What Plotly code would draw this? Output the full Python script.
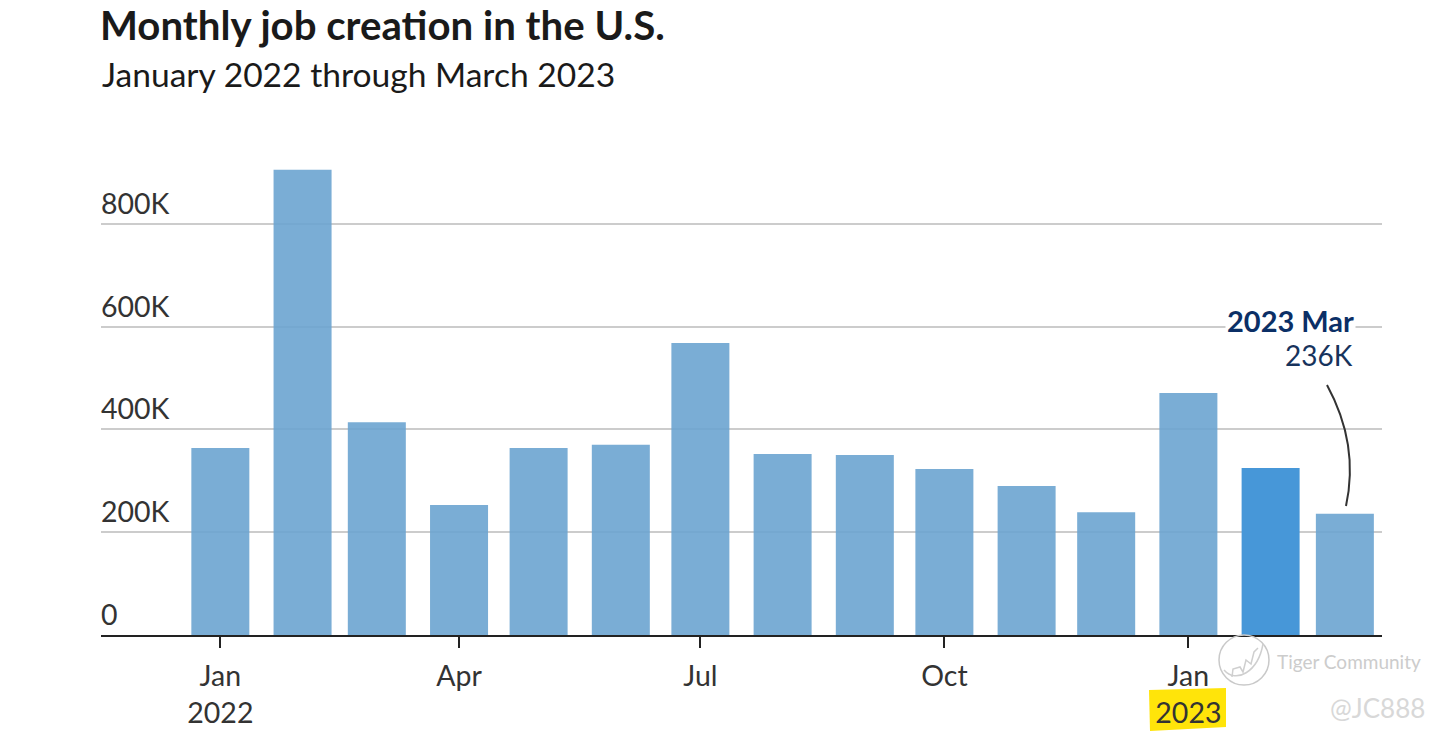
import plotly.graph_objects as go

months = ["2022-01-01","2022-02-01","2022-03-01","2022-04-01","2022-05-01","2022-06-01","2022-07-01",
          "2022-08-01","2022-09-01","2022-10-01","2022-11-01","2022-12-01","2023-01-01","2023-02-01","2023-03-01"]
jobs = [364, 905, 414, 253, 364, 370, 568, 352, 350, 323, 290, 239, 471, 325, 236]
bar_colors = ["rgba(108,164,208,0.9)"]*13 + ["#4797d8", "rgba(108,164,208,0.9)"]
x_tick_vals = ["2022-01-01","2022-04-01","2022-07-01","2022-10-01","2023-01-01"]
x_tick_text = ["Jan<br>2022","Apr","Jul","Oct","Jan<br>2023"]
y_tick_vals = [0,200,400,600,800]
y_tick_text = ["0","200K","400K","600K","800K"]

W, H = 1453, 742
L, R, T, B = 101, 1382, 157, 635
def px(x): return (x-L)/(R-L)
def py(y): return (B-y)/(B-T)
def path(cmds):
    out=[]
    for c in cmds:
        if isinstance(c,str): out.append(c)
        else: out.append(f"{px(c[0]):.5f},{py(c[1]):.5f}")
    return " ".join(out)

FONT = "Lato, 'Open Sans', sans-serif"
fig = go.Figure(go.Bar(x=months, y=jobs, marker=dict(color=bar_colors, line_width=0),
                       width=58/2.652*86400000, hovertemplate="%{x|%Y %b}<br>%{y}K<extra></extra>"))

shapes = [
    # yellow highlight behind the 2023 label
    dict(type="path", xref="paper", yref="paper", layer="below", line_width=0, fillcolor="#ffe40a",
         path=path(["M",(1149,690),"L",(1226,688),"L",(1226,727),"L",(1150,731),"Z"])),
    # callout leader
    dict(type="path", xref="paper", yref="paper", layer="above", line=dict(color="#333333", width=2),
         path=path(["M",(1327,385),"C",(1345,418),(1356,460),(1346,506)])),
    # watermark logo
    dict(type="circle", xref="paper", yref="paper", layer="above", line=dict(color="#c9c9c9", width=1.5),
         x0=px(1219), x1=px(1269), y0=py(685), y1=py(635)),
    dict(type="path", xref="paper", yref="paper", layer="above", line=dict(color="#cfcfcf", width=1.5),
         path=path(["M",(1224,670),"C",(1236,684),(1258,672),(1263,644)])),
    dict(type="path", xref="paper", yref="paper", layer="above", line=dict(color="#cfcfcf", width=1.5),
         path=path(["M",(1232,677),"L",(1233,669),"L",(1240,667),"L",(1243,672),"L",(1246,660),
                    "L",(1251,664),"L",(1254,652),"L",(1258,648)])),
]

annotations = [
    dict(text="January 2022 through March 2023", xref="paper", yref="paper", x=px(100), y=py(74),
         xanchor="left", yanchor="middle", showarrow=False, font=dict(family=FONT, size=33.6, color="#1a1a1a")),
    dict(text="<b>2023 Mar</b>", xref="paper", yref="paper", x=px(1356), y=py(320), xanchor="right",
         yanchor="middle", showarrow=False, bgcolor="white", font=dict(family=FONT, size=29, color="#0b2f66")),
    dict(text="236K", xref="paper", yref="paper", x=px(1355), y=py(355), xanchor="right",
         yanchor="middle", showarrow=False, font=dict(family=FONT, size=28, color="#17335c")),
    dict(text="Tiger Community", xref="paper", yref="paper", x=px(1275), y=py(661), xanchor="left",
         yanchor="middle", showarrow=False, font=dict(family=FONT, size=19, color="#cccccc")),
    dict(text="@JC888", xref="paper", yref="paper", x=px(1328), y=py(708), xanchor="left",
         yanchor="middle", showarrow=False, font=dict(family=FONT, size=26, color="#d8d8d8")),
]

fig.update_layout(
    width=W, height=H, margin=dict(l=L, r=W-R, t=T, b=H-B, pad=0),
    paper_bgcolor="white", plot_bgcolor="white", showlegend=False,
    font=dict(family=FONT, color="#333333"),
    title=dict(text="<b>Monthly job creation in the U.S.</b>", x=100/W, xanchor="left", xref="container",
               y=1-26/H, yanchor="middle", yref="container", font=dict(family=FONT, size=40.2, color="#1a1a1a")),
    shapes=shapes, annotations=annotations,
    xaxis=dict(type="date", range=["2021-11-17","2023-03-15"], tickmode="array", tickvals=x_tick_vals,
               ticktext=x_tick_text, ticks="outside", ticklen=11, tickwidth=2, tickcolor="#222222",
               ticklabelstandoff=4,
               showgrid=False, showline=True, linecolor="#222222", linewidth=2, zeroline=False,
               tickfont=dict(family=FONT, size=28.5, color="#333333")),
    yaxis=dict(range=[0,930], tickmode="array", tickvals=y_tick_vals, ticktext=y_tick_text,
               ticklabelposition="inside", ticklabelshift=-20, ticklabelstandoff=-3, ticks="", showgrid=True,
               gridcolor="#cccccc", gridwidth=2, zeroline=False, showline=False,
               tickfont=dict(family=FONT, size=28.5, color="#333333")),
)
fig.write_html("out.html", config=dict(displayModeBar=False),
               post_script="document.body.style.margin='0';document.body.style.overflow='hidden';")
